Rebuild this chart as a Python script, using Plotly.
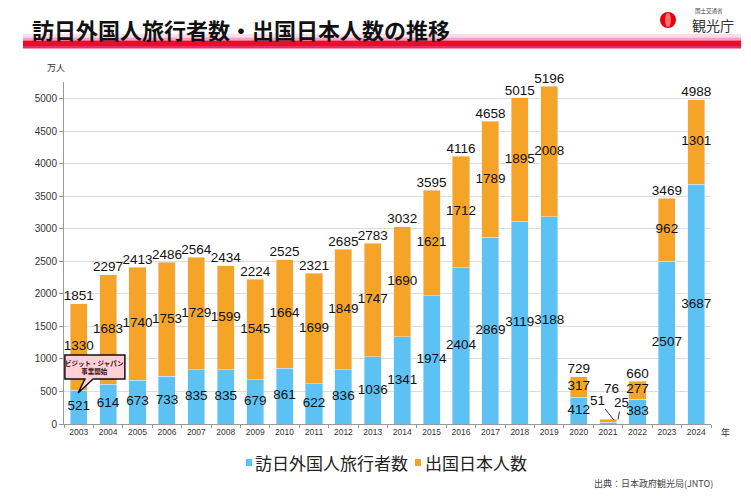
import plotly.graph_objects as go

years = ["2003","2004","2005","2006","2007","2008","2009","2010","2011","2012","2013",
         "2014","2015","2016","2017","2018","2019","2020","2021","2022","2023","2024"]
visitors = [521,614,673,733,835,835,679,861,622,836,1036,1341,1974,2404,2869,3119,3188,412,25,383,2507,3687]
outbound = [1330,1683,1740,1753,1729,1599,1545,1664,1699,1849,1747,1690,1621,1712,1789,1895,2008,317,51,277,962,1301]
totals = [1851,2297,2413,2486,2564,2434,2224,2525,2321,2685,2783,3032,3595,4116,4658,5015,5196,729,76,660,3469,4988]
legend_names = ["訪日外国人旅行者数", "出国日本人数"]

BLUE = "#5CC2F3"
ORANGE = "#F6A428"
NUMFONT = "Liberation Sans, Arial, sans-serif"
JP = "Noto Sans CJK JP, sans-serif"

# The page body has an 8px default margin: figure is 743x490 so it fills the 751x498 window.
W, H = 743, 490
L, R, T, B = 56, 40, 74, 74
pw, ph = W - L - R, H - T - B


def px(xp):  # reference-window pixel -> paper x
    return (xp - 64) / pw


def py(yp):  # reference-window pixel -> paper y
    return (424 - yp) / ph


fig = go.Figure()
fig.add_bar(x=years, y=visitors, name=legend_names[0], marker_color=BLUE, showlegend=False)
fig.add_bar(x=years, y=outbound, name=legend_names[1], marker_color=ORANGE, showlegend=False)

small = "2021"
i21 = years.index(small)
bx = [y for y in years if y != small]
bmid = [v / 2 for y, v in zip(years, visitors) if y != small]
btxt = [str(v) for y, v in zip(years, visitors) if y != small]
omid = [v + o / 2 for y, v, o in zip(years, visitors, outbound) if y != small]
otxt = [str(o) for y, o in zip(years, outbound) if y != small]
tx = [y for y in years if y != small]
ty = [t for y, t in zip(years, totals) if y != small]

lblfont = dict(size=13.5, color="#111", family=NUMFONT)
fig.add_scatter(x=bx, y=bmid, text=btxt, mode="text", showlegend=False, cliponaxis=False,
                textfont=lblfont, hoverinfo="skip")
fig.add_scatter(x=bx, y=omid, text=otxt, mode="text", showlegend=False, cliponaxis=False,
                textfont=lblfont, hoverinfo="skip")
fig.add_scatter(x=tx, y=ty, text=[str(t) for t in ty], mode="text", cliponaxis=False,
                textposition="top center", showlegend=False, textfont=lblfont, hoverinfo="skip")

# 2021: tiny bar, labels with leader lines
fig.add_annotation(x=i21 + 0.1, y=totals[i21], xref="x", yref="y", text=str(totals[i21]),
                   showarrow=False, yshift=31, font=lblfont)
fig.add_annotation(x=i21 + 0.2, y=60, xref="x", yref="y",
                   text=str(outbound[i21]), showarrow=True, arrowhead=0, arrowwidth=1,
                   arrowcolor="#333", ax=-16, ay=-20, standoff=0, font=lblfont)
fig.add_annotation(x=i21 + 0.34, y=70, xref="x", yref="y",
                   text=str(visitors[i21]), showarrow=True, arrowhead=0, arrowwidth=1,
                   arrowcolor="#333", ax=3, ay=-17, font=lblfont)

# callout bubble
fig.add_shape(type="path", xref="x", yref="y",
              path="M -0.47,1062 L 1.57,1062 L 1.57,692 L 0.49,692 L -0.02,477 L 0.21,692 L -0.47,692 Z",
              fillcolor="#FFD0D8", line=dict(color="#111", width=1.5), layer="above")
fig.add_annotation(x=0.55, y=877, xref="x", yref="y", showarrow=False,
                   text="<b>ビジット・ジャパン<br>事業開始</b>",
                   font=dict(size=6.5, color="#3a1010", family=JP))

# header bands
for y0, y1, c in [(34, 37.5, "#FCDDEC"), (37.5, 40.5, "#F7A0C8"), (40.5, 46, "#EE0A2A"), (46, 48.5, "#E0306A")]:
    fig.add_shape(type="rect", xref="paper", yref="paper", x0=px(23), x1=px(741),
                  y0=py(y0), y1=py(y1), fillcolor=c, line_width=0)

fig.add_annotation(xref="paper", yref="paper", x=px(30), y=py(29), xanchor="left", yanchor="middle",
                   text="<b>訪日外国人旅行者数・出国日本人数の推移</b>", showarrow=False,
                   font=dict(size=22, color="#111", family=JP))
# logo
fig.add_shape(type="circle", xref="paper", yref="paper", x0=px(660), x1=px(676), y0=py(12), y1=py(28),
              fillcolor="#E60012", line_width=0)
fig.add_shape(type="circle", xref="paper", yref="paper", x0=px(665), x1=px(671), y0=py(13), y1=py(27),
              fillcolor="#FF7070", line_width=0)
fig.add_annotation(xref="paper", yref="paper", x=px(693), y=py(11), xanchor="left", yanchor="middle",
                   text="国土交通省", showarrow=False, font=dict(size=5.5, color="#444", family=JP))
fig.add_annotation(xref="paper", yref="paper", x=px(690), y=py(25), xanchor="left", yanchor="middle",
                   text="観光庁", showarrow=False, font=dict(size=14, color="#333", family=JP))

fig.add_annotation(xref="paper", yref="paper", x=px(56), y=py(67), xanchor="center", yanchor="middle",
                   text="万人", showarrow=False, font=dict(size=9, color="#333", family=JP))
fig.add_annotation(xref="paper", yref="paper", x=px(725), y=py(432), xanchor="center", yanchor="middle",
                   text="年", showarrow=False, font=dict(size=9, color="#333", family=JP))
fig.add_annotation(xref="paper", yref="paper", x=px(715), y=py(483), xanchor="right", yanchor="middle",
                   text="出典：日本政府観光局(JNTO)", showarrow=False,
                   font=dict(size=9, color="#444", family=JP))

# legend (drawn manually to match the compact layout)
for (sx, tx0), name, c in [((246, 253), legend_names[0], BLUE), ((415, 423), legend_names[1], ORANGE)]:
    fig.add_shape(type="rect", xref="paper", yref="paper", x0=px(sx), x1=px(sx + 6),
                  y0=py(466), y1=py(459), fillcolor=c, line_width=0)
    fig.add_annotation(xref="paper", yref="paper", x=px(tx0), y=py(462), xanchor="left",
                       yanchor="middle", text=name, showarrow=False,
                       font=dict(size=17, color="#222", family=JP))

fig.update_layout(
    width=W, height=H,
    margin=dict(l=L, r=R, t=T, b=B),
    barmode="stack", bargap=0.42,
    plot_bgcolor="white", paper_bgcolor="white",
    showlegend=False,
    xaxis=dict(type="category", range=[-0.5, 21.5], showline=True, linecolor="#999",
               ticks="outside", ticklen=3, tickcolor="#999", tickson="boundaries", tickangle=0,
               tickfont=dict(size=8.5, color="#333", family=NUMFONT)),
    yaxis=dict(range=[0, 5260], dtick=500, showgrid=True, gridcolor="#DDDDDD", showline=True,
               linecolor="#999", ticks="outside", ticklen=4, tickcolor="#999", zeroline=False,
               tickfont=dict(size=10, color="#333", family=NUMFONT)),
)

fig.write_html("out.html")
